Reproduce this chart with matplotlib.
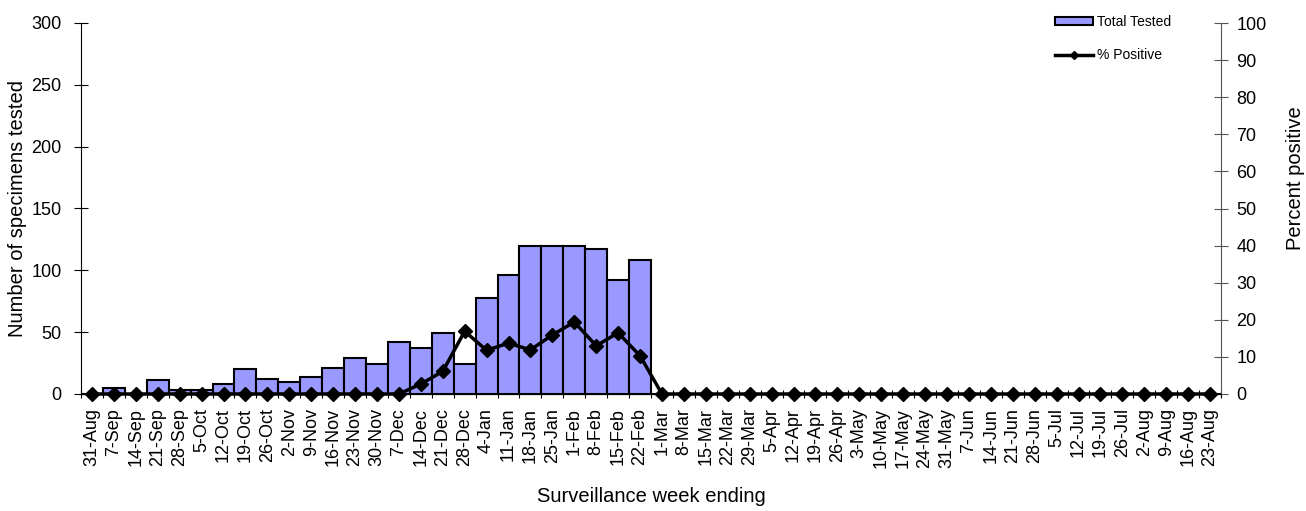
import numpy as np
import matplotlib
matplotlib.use('Agg')
import matplotlib.pyplot as plt
from matplotlib.lines import Line2D
from matplotlib.patches import Patch

plt.rcParams['font.family'] = ['Liberation Sans', 'DejaVu Sans']

# week ending labels
weeks = ['31-Aug', '7-Sep', '14-Sep', '21-Sep', '28-Sep', '5-Oct', '12-Oct', '19-Oct', '26-Oct',
         '2-Nov', '9-Nov', '16-Nov', '23-Nov', '30-Nov', '7-Dec', '14-Dec', '21-Dec', '28-Dec',
         '4-Jan', '11-Jan', '18-Jan', '25-Jan', '1-Feb', '8-Feb', '15-Feb', '22-Feb', '1-Mar',
         '8-Mar', '15-Mar', '22-Mar', '29-Mar', '5-Apr', '12-Apr', '19-Apr', '26-Apr', '3-May',
         '10-May', '17-May', '24-May', '31-May', '7-Jun', '14-Jun', '21-Jun', '28-Jun', '5-Jul',
         '12-Jul', '19-Jul', '26-Jul', '2-Aug', '9-Aug', '16-Aug', '23-Aug']

# specimens tested (left axis)
total_tested = [0, 5, 0, 11, 3, 3, 8, 20, 12, 10, 14, 21, 29, 24, 42, 37, 49, 24,
                78, 96, 120, 120, 120, 117, 92, 108] + [0] * 26

# percent positive (right axis)
pct_positive = [0] * 15 + [2.7, 6.1, 16.9, 11.8, 13.7, 11.9, 15.9, 19.4, 13.0, 16.5, 10.3] + [0] * 26

x = np.arange(len(weeks))

fig, ax = plt.subplots(figsize=(13.06, 5.11), dpi=100)
fig.subplots_adjust(left=81 / 1306, right=1221 / 1306, top=1 - 23 / 511, bottom=1 - 394 / 511)

ax.bar(x, total_tested, width=1.0, color='#9999FF', edgecolor='black', linewidth=1.5, zorder=2)
ax.set_xlim(-0.5, len(weeks) - 0.5)
ax.set_ylim(0, 300)
ax.set_yticks(range(0, 301, 50))
ax.set_xticks(x)
ax.set_xticklabels(weeks, rotation=90, fontsize=13)
ax.set_xticks(np.arange(-0.5, len(weeks), 1), minor=True)
ax.tick_params(axis='x', which='major', length=0, pad=10)
ax.tick_params(axis='x', which='minor', length=6, direction='inout', width=0.8)
ax.tick_params(axis='y', direction='inout', length=10, labelsize=13, width=0.8, pad=9)
ax.spines['top'].set_visible(False)
ax.spines['right'].set_visible(False)
ax.set_ylabel('Number of specimens tested', fontsize=14.5, labelpad=3)
ax.set_xlabel('Surveillance week ending', fontsize=14.5, labelpad=14)

ax2 = ax.twinx()
ax2.plot(x, pct_positive, color='black', linewidth=2.5, marker='D', markersize=7.5, zorder=3,
         clip_on=False)
ax2.set_ylim(0, 100)
ax2.set_yticks(range(0, 101, 10))
ax2.tick_params(axis='y', direction='inout', length=10, labelsize=13, width=0.8, pad=6,
                color='#555555')
ax2.spines['top'].set_visible(False)
ax2.spines['left'].set_visible(False)
ax2.spines['right'].set_color('#555555')
ax2.set_ylabel('Percent positive', fontsize=14.5, labelpad=14)
ax2.yaxis.label.set_y(0.582)  # label sits above the axis centre in the original

handles = [Patch(facecolor='#9999FF', edgecolor='black', linewidth=1.5),
           Line2D([], [], color='black', linewidth=2.5, marker='D', markersize=4.5)]
ax2.legend(handles, ['Total Tested', '% Positive'], loc='upper left',
           bbox_to_anchor=(1055 / 1306, 1 - 15 / 511), bbox_transform=fig.transFigure,
           frameon=False, fontsize=10, handlelength=2.7, handleheight=0.45, labelspacing=1.4,
           handletextpad=0.3, borderpad=0, borderaxespad=0)

fig.savefig('out.png', dpi=100)
